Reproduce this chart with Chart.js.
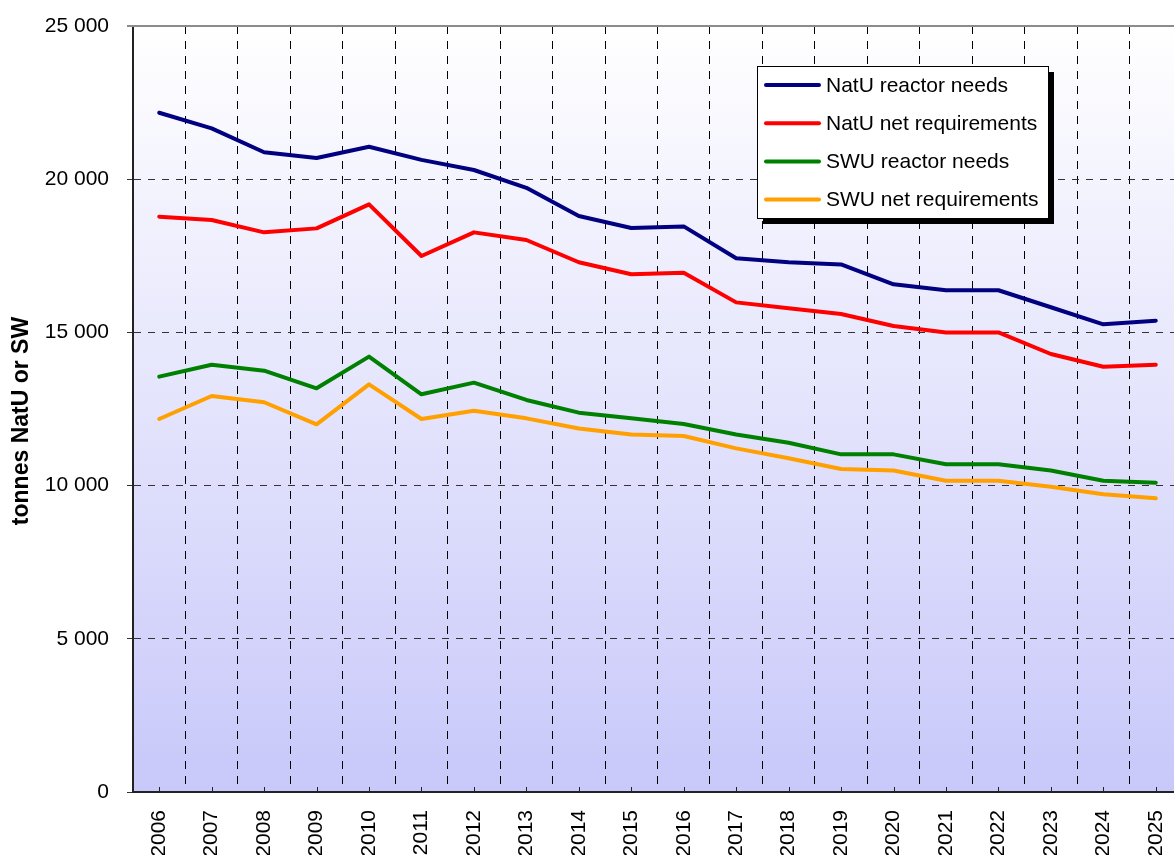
<!DOCTYPE html>
<html>
<head>
<meta charset="utf-8">
<script src="https://cdn.jsdelivr.net/npm/chart.js@4.4.1/dist/chart.umd.min.js"></script>
<style>
  html, body { margin: 0; padding: 0; overflow: hidden; background: #fff; }
  #wrap { width: 1199px; height: 855px; }
</style>
</head>
<body>
<div id="wrap"><canvas id="chart" width="1199" height="855"></canvas></div>
<script>
// uranium requirements, tonnes
const years = ["2006", "2007", "2008", "2009", "2010", "2011", "2012", "2013", "2014", "2015",
               "2016", "2017", "2018", "2019", "2020", "2021", "2022", "2023", "2024", "2025"];
const natuReactor = [22170, 21660, 20880, 20690, 21060, 20630, 20300, 19720, 18800, 18405,
                     18460, 17420, 17290, 17220, 16570, 16375, 16375, 15820, 15265, 15380];
const natuNet = [18775, 18670, 18265, 18395, 19180, 17495, 18265, 18015, 17290, 16900,
                 16950, 15980, 15785, 15600, 15210, 15000, 15000, 14295, 13880, 13945];
const swuReactor = [13555, 13945, 13750, 13175, 14210, 12980, 13360, 12795, 12380, 12195,
                    12010, 11670, 11400, 11020, 11020, 10695, 10695, 10490, 10160, 10095];
const swuNet = [12175, 12925, 12720, 12000, 13305, 12175, 12445, 12195, 11865, 11670,
                11620, 11215, 10890, 10540, 10490, 10160, 10160, 9965, 9715, 9585];
const yTicks = [0, 5000, 10000, 15000, 20000, 25000];
const yTitle = "tonnes NatU or SW";

const FONT = "'Liberation Sans', Arial, sans-serif";

const fmt = (v) => String(v).replace(/\B(?=(\d{3})+(?!\d))/g, " ");

// fond dégradé + bordures + légende + titre Y
const decor = {
  id: "decor",
  beforeDraw(chart) {
    const { ctx, chartArea: a } = chart;
    const g = ctx.createLinearGradient(0, a.top, 0, a.bottom);
    g.addColorStop(0, "#ffffff");
    g.addColorStop(1, "#c8c8fa");
    ctx.save();
    ctx.fillStyle = g;
    ctx.fillRect(a.left, a.top, a.right - a.left, a.bottom - a.top);
    ctx.restore();
  },
  afterDatasetsDraw(chart) {
    const { ctx, chartArea: a } = chart;
    const xs = chart.scales.x;
    ctx.save();
    // top border
    ctx.strokeStyle = "#8c8c8c";
    ctx.lineWidth = 2;
    ctx.beginPath();
    ctx.moveTo(a.left - 6, a.top);
    ctx.lineTo(a.right, a.top);
    ctx.stroke();
    // small ticks at category centres
    ctx.strokeStyle = "#222";
    ctx.lineWidth = 1;
    years.forEach((_, i) => {
      const x = Math.round(xs.getPixelForValue(i)) + 0.5;
      ctx.beginPath();
      ctx.moveTo(x, a.bottom);
      ctx.lineTo(x, a.bottom - 5);
      ctx.stroke();
    });
    // legend
    const bx = 757, by = 66, bw = 291, bh = 152;
    ctx.fillStyle = "#000";
    ctx.fillRect(bx + 6, by + 6, bw, bh);
    ctx.fillStyle = "#fff";
    ctx.fillRect(bx, by, bw, bh);
    ctx.strokeStyle = "#000";
    ctx.lineWidth = 1;
    ctx.strokeRect(bx + 0.5, by + 0.5, bw, bh);
    ctx.font = "21px " + FONT;
    ctx.textBaseline = "middle";
    ctx.textAlign = "left";
    chart.data.datasets.forEach((ds, i) => {
      const y = 85 + i * 38.2;
      ctx.strokeStyle = ds.borderColor;
      ctx.lineWidth = 4;
      ctx.lineCap = "round";
      ctx.beginPath();
      ctx.moveTo(766, y);
      ctx.lineTo(819, y);
      ctx.stroke();
      ctx.fillStyle = "#000";
      ctx.fillText(ds.label, 826, y + 1);
    });
    ctx.restore();
  },
  afterDraw(chart) {
    const { ctx } = chart;
    ctx.save();
    ctx.translate(22, 421);
    ctx.rotate(-Math.PI / 2);
    ctx.font = "bold 23px " + FONT;
    ctx.fillStyle = "#000";
    ctx.textAlign = "center";
    ctx.textBaseline = "middle";
    ctx.fillText(yTitle, 0, 0);
    ctx.restore();
  },
};

const line = (label, data, color) => ({
  label, data, borderColor: color, backgroundColor: color,
  borderWidth: 4, pointRadius: 0, tension: 0, borderJoinStyle: "round", borderCapStyle: "round",
});

new Chart(document.getElementById("chart"), {
  type: "line",
  data: {
    labels: years,
    datasets: [
      line("NatU reactor needs", natuReactor, "#000080"),
      line("NatU net requirements", natuNet, "#ff0000"),
      line("SWU reactor needs", swuReactor, "#008000"),
      line("SWU net requirements", swuNet, "#ffa000"),
    ],
  },
  options: {
    responsive: false,
    animation: false,
    devicePixelRatio: 1,
    layout: { padding: { top: 26, right: 17, left: 0, bottom: 0 } },
    plugins: { legend: { display: false }, tooltip: { enabled: false } },
    scales: {
      x: {
        offset: true,
        grid: { offset: true, color: "#000", drawTicks: false, lineWidth: 1 },
        border: { color: "#222", width: 2, dash: [8, 7] },
        ticks: {
          color: "#000", font: { family: FONT, size: 21 },
          minRotation: 90, maxRotation: 90, padding: 18, autoSkip: false,
        },
        afterFit(s) { s.height = 63; s.paddingLeft = 0; s.paddingRight = 0; },
      },
      y: {
        min: 0, max: 25000,
        afterBuildTicks(s) { s.ticks = yTicks.map((v) => ({ value: v })); },
        grid: { color: "#333", tickLength: 6, tickColor: "#333", tickBorderDash: [] },
        border: { color: "#222", width: 2, dash: [7, 7] },
        ticks: {
          color: "#000", font: { family: FONT, size: 21 }, padding: 18,
          callback: (v) => fmt(v),
        },
        afterFit(s) { s.width = 133; s.paddingTop = 0; s.paddingBottom = 0; },
      },
    },
  },
  plugins: [decor],
});
</script>
</body>
</html>
